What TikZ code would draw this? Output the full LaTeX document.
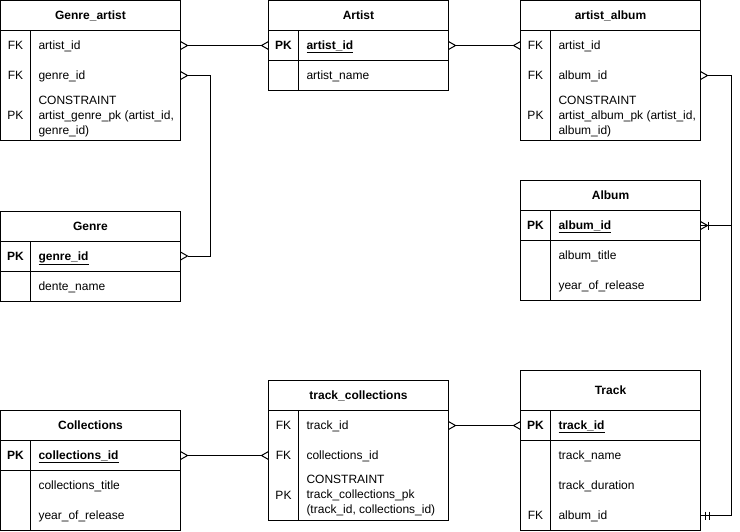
\documentclass[tikz,border=0pt]{standalone}
\usepackage{fontspec}
\setmainfont{Liberation Sans}
\usetikzlibrary{calc}
\newcommand\crowR[1]{\draw ($(#1)+(0,-4)$) -- ($(#1)+(7,0)$) -- ($(#1)+(0,4)$);}
\newcommand\crowL[1]{\draw ($(#1)+(0,-4)$) -- ($(#1)+(-7,0)$) -- ($(#1)+(0,4)$);}
\begin{document}
\begin{tikzpicture}[x=1pt,y=-1pt,line width=1pt,
  every node/.style={font=\fontsize{12}{15}\selectfont, inner sep=0pt, outer sep=0pt, text height=10pt, text depth=1.5pt},
  tbl/.style={draw, minimum width=180pt, anchor=north west},
  ttl/.style={font=\fontsize{12}{15}\selectfont\bfseries},
  rowbox/.style={minimum width=180pt, draw=none},
  keyc/.style={},
  pkey/.style={font=\fontsize{12}{15}\selectfont\bfseries},
  fld/.style={anchor=west, align=left},
  multi/.style={anchor=west, align=left, text height=, text depth=},
]
\useasboundingbox (0,0) rectangle (740,531);

% ---------- Genre_artist ----------
\node[tbl, minimum height=140pt] (ga) at (0.5,0.5) {};
\draw (0.5,30.5) -- (180.5,30.5);
\draw (30.5,30.5) -- (30.5,140.5);
\node[ttl] (ga-t) at (90.5,15.5) {Genre\_artist};
\node[rowbox, minimum height=30pt] (ga-1) at (90.5,45.5) {};
\node[rowbox, minimum height=30pt] (ga-2) at (90.5,75.5) {};
\node[rowbox, minimum height=50pt] (ga-3) at (90.5,115.5) {};
\node[keyc] (ga-1k) at (15.5,45.5) {FK};
\node[fld] (ga-1f) at (38.5,45.5) {artist\_id};
\node[keyc] (ga-2k) at (15.5,75.5) {FK};
\node[fld] (ga-2f) at (38.5,75.5) {genre\_id};
\node[keyc] (ga-3k) at (15.5,115.5) {PK};
\node[multi] (ga-3f) at (38.5,116.5) {CONSTRAINT\\artist\_genre\_pk (artist\_id,\\genre\_id)};

% ---------- Artist ----------
\node[tbl, minimum height=90pt] (ar) at (268.5,0.5) {};
\draw (268.5,30.5) -- (448.5,30.5);
\draw (268.5,60.5) -- (448.5,60.5);
\draw (298.5,30.5) -- (298.5,90.5);
\node[ttl] (ar-t) at (358.5,15.5) {Artist};
\node[rowbox, minimum height=30pt] (ar-1) at (358.5,45.5) {};
\node[rowbox, minimum height=30pt] (ar-2) at (358.5,75.5) {};
\node[pkey] (ar-1k) at (283.5,45.5) {PK};
\node[fld, pkey] (ar-1f) at (306.5,45.5) {\underline{artist\_id}};
\node[fld] (ar-2f) at (306.5,75.5) {artist\_name};

% ---------- artist_album ----------
\node[tbl, minimum height=140pt] (aa) at (520.5,0.5) {};
\draw (520.5,30.5) -- (700.5,30.5);
\draw (550.5,30.5) -- (550.5,140.5);
\node[ttl] (aa-t) at (610.5,15.5) {artist\_album};
\node[rowbox, minimum height=30pt] (aa-1) at (610.5,45.5) {};
\node[rowbox, minimum height=30pt] (aa-2) at (610.5,75.5) {};
\node[rowbox, minimum height=50pt] (aa-3) at (610.5,115.5) {};
\node[keyc] (aa-1k) at (535.5,45.5) {FK};
\node[fld] (aa-1f) at (558.5,45.5) {artist\_id};
\node[keyc] (aa-2k) at (535.5,75.5) {FK};
\node[fld] (aa-2f) at (558.5,75.5) {album\_id};
\node[keyc] (aa-3k) at (535.5,115.5) {PK};
\node[multi] (aa-3f) at (558.5,116.5) {CONSTRAINT\\artist\_album\_pk (artist\_id,\\album\_id)};

% ---------- Album ----------
\node[tbl, minimum height=120pt] (al) at (520.5,180.5) {};
\draw (520.5,210.5) -- (700.5,210.5);
\draw (520.5,240.5) -- (700.5,240.5);
\draw (550.5,210.5) -- (550.5,300.5);
\node[ttl] (al-t) at (610.5,195.5) {Album};
\node[rowbox, minimum height=30pt] (al-1) at (610.5,225.5) {};
\node[pkey] (al-1k) at (535.5,225.5) {PK};
\node[fld, pkey] (al-1f) at (558.5,225.5) {\underline{album\_id}};
\node[fld] (al-2f) at (558.5,255.5) {album\_title};
\node[fld] (al-3f) at (558.5,285.5) {year\_of\_release};

% ---------- Genre ----------
\node[tbl, minimum height=90pt] (ge) at (0.5,211) {};
\draw (0.5,241) -- (180.5,241);
\draw (0.5,271) -- (180.5,271);
\draw (30.5,241) -- (30.5,301);
\node[ttl] (ge-t) at (90.5,226) {Genre};
\node[rowbox, minimum height=30pt] (ge-1) at (90.5,256) {};
\node[pkey] (ge-1k) at (15.5,256) {PK};
\node[fld, pkey] (ge-1f) at (38.5,256) {\underline{genre\_id}};
\node[fld] (ge-2f) at (38.5,286) {dente\_name};

% ---------- track_collections ----------
\node[tbl, minimum height=140pt] (tc) at (268.5,380.5) {};
\draw (268.5,410.5) -- (448.5,410.5);
\draw (298.5,410.5) -- (298.5,520.5);
\node[ttl] (tc-t) at (358.5,395.5) {track\_collections};
\node[rowbox, minimum height=30pt] (tc-1) at (358.5,425.5) {};
\node[rowbox, minimum height=30pt] (tc-2) at (358.5,455.5) {};
\node[keyc] (tc-1k) at (283.5,425.5) {FK};
\node[fld] (tc-1f) at (306.5,425.5) {track\_id};
\node[keyc] (tc-2k) at (283.5,455.5) {FK};
\node[fld] (tc-2f) at (306.5,455.5) {collections\_id};
\node[keyc] (tc-3k) at (283.5,495.5) {PK};
\node[multi] (tc-3f) at (306.5,495.5) {CONSTRAINT\\track\_collections\_pk\\(track\_id, collections\_id)};

% ---------- Collections ----------
\node[tbl, minimum height=120pt] (co) at (0.5,410.5) {};
\draw (0.5,440.5) -- (180.5,440.5);
\draw (0.5,470.5) -- (180.5,470.5);
\draw (30.5,440.5) -- (30.5,530.5);
\node[ttl] (co-t) at (90.5,425.5) {Collections};
\node[rowbox, minimum height=30pt] (co-1) at (90.5,455.5) {};
\node[pkey] (co-1k) at (15.5,455.5) {PK};
\node[fld, pkey] (co-1f) at (38.5,455.5) {\underline{collections\_id}};
\node[fld] (co-2f) at (38.5,485.5) {collections\_title};
\node[fld] (co-3f) at (38.5,515.5) {year\_of\_release};

% ---------- Track ----------
\node[tbl, minimum height=160pt] (tr) at (520.5,370.5) {};
\draw (520.5,410.5) -- (700.5,410.5);
\draw (520.5,440.5) -- (700.5,440.5);
\draw (550.5,410.5) -- (550.5,530.5);
\node[ttl] (tr-t) at (610.5,390.5) {Track};
\node[rowbox, minimum height=30pt] (tr-1) at (610.5,425.5) {};
\node[rowbox, minimum height=30pt] (tr-4) at (610.5,515.5) {};
\node[pkey] (tr-1k) at (535.5,425.5) {PK};
\node[fld, pkey] (tr-1f) at (558.5,425.5) {\underline{track\_id}};
\node[fld] (tr-2f) at (558.5,455.5) {track\_name};
\node[fld] (tr-3f) at (558.5,485.5) {track\_duration};
\node[keyc] (tr-4k) at (535.5,515.5) {FK};
\node[fld] (tr-4f) at (558.5,515.5) {album\_id};

% ---------- connectors ----------
\draw ([xshift=7pt]ga-1.east) -- ([xshift=-7pt]ar-1.west);
\crowR{ga-1.east} \crowL{ar-1.west}

\draw ([xshift=7pt]ga-2.east) -- ++(23,0) |- ([xshift=7pt]ge-1.east);
\crowR{ga-2.east} \crowR{ge-1.east}

\draw ([xshift=7pt]ar-1.east) -- ([xshift=-7pt]aa-1.west);
\crowR{ar-1.east} \crowL{aa-1.west}

\coordinate (bus) at (731.5,75.5);
\draw ([xshift=7pt]aa-2.east) -- (bus) |- (tr-4.east);
\crowR{aa-2.east}
\draw (al-1.east) -- (al-1.east -| bus);
\crowR{al-1.east}
\draw ($(al-1.east)+(8,-4)$) -- ++(0,8);
\draw ($(tr-4.east)+(4.5,-4)$) -- ++(0,8);
\draw ($(tr-4.east)+(8.5,-4)$) -- ++(0,8);

\draw ([xshift=7pt]tc-1.east) -- ([xshift=-7pt]tr-1.west);
\crowR{tc-1.east} \crowL{tr-1.west}

\draw ([xshift=7pt]co-1.east) -- ([xshift=-7pt]tc-2.west);
\crowR{co-1.east} \crowL{tc-2.west}
\end{tikzpicture}
\end{document}
